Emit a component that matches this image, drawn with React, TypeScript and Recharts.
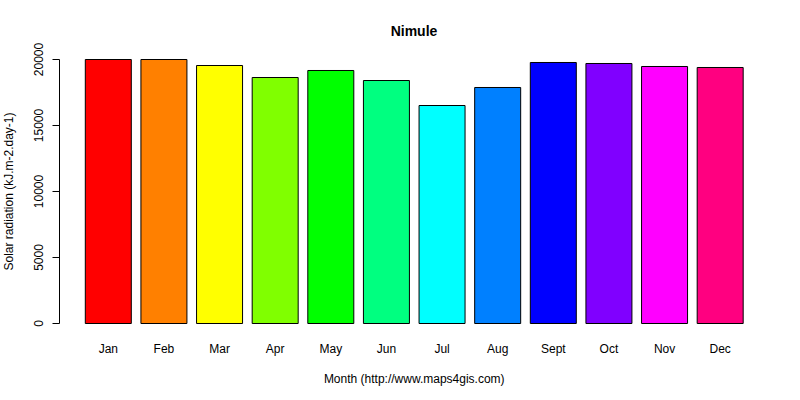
import { BarChart, Bar, Cell, XAxis, YAxis } from 'recharts';

// monthly solar radiation, kJ.m-2.day-1
const months = ['Jan', 'Feb', 'Mar', 'Apr', 'May', 'Jun', 'Jul', 'Aug', 'Sept', 'Oct', 'Nov', 'Dec'];
const radiation = [20000, 20000, 19545, 18636, 19167, 18409, 16515, 17879, 19773, 19697, 19470, 19394];
const barColors = [
  '#FF0000', '#FF8000', '#FFFF00', '#80FF00', '#00FF00', '#00FF80',
  '#00FFFF', '#0080FF', '#0000FF', '#8000FF', '#FF00FF', '#FF0080',
];
const yTicks = [0, 5000, 10000, 15000, 20000];

const data = months.map((month, i) => ({ month, value: radiation[i] }));

const font = '"Liberation Sans", Arial, sans-serif';

const XTick = (props: any) => {
  const { x, y, payload } = props;
  return (
    <text x={x} y={y + 29.5} textAnchor="middle" fontSize={12} fill="#000" fontFamily={font}>
      {payload.value}
    </text>
  );
};

const YTick = (props: any) => {
  const { x, y, payload } = props;
  return (
    <text
      transform={`translate(${x - 10},${y}) rotate(-90)`}
      textAnchor="middle"
      fontSize={12}
      fill="#000"
      fontFamily={font}
    >
      {payload.value}
    </text>
  );
};

export default function App() {
  return (
    <div style={styles.wrapper}>
      <div style={styles.title}>Nimule</div>
      <BarChart
        width={800}
        height={400}
        data={data}
        margin={{ top: 59.5, right: 52, left: 0, bottom: 46.5 }}
        barCategoryGap={4.8}
      >
        <XAxis
          dataKey="month"
          axisLine={false}
          tickLine={false}
          tickSize={0}
          tickMargin={0}
          height={30}
          interval={0}
          padding={{ left: 21, right: 0 }}
          tick={<XTick />}
          label={{
            content: (p: any) => {
              const vb = p.viewBox;
              return (
                <text
                  x={vb.x + 21 + (vb.width - 21) / 2}
                  y={vb.y + 59}
                  textAnchor="middle"
                  fontSize={12}
                  fill="#000"
                  fontFamily={font}
                >
                  Month (http://www.maps4gis.com)
                </text>
              );
            },
          }}
        />
        <YAxis
          domain={[0, 20000]}
          ticks={yTicks}
          width={59.5}
          tickSize={7}
          tickMargin={0}
          stroke="#000"
          axisLine={{ stroke: '#000' }}
          tickLine={{ stroke: '#000' }}
          tick={<YTick />}
          label={{
            content: (p: any) => {
              const vb = p.viewBox;
              const cy = vb.y + vb.height / 2;
              return (
                <text
                  transform={`translate(${vb.x + 13},${cy}) rotate(-90)`}
                  textAnchor="middle"
                  fontSize={12}
                  fill="#000"
                  fontFamily={font}
                >
                  Solar radiation (kJ.m-2.day-1)
                </text>
              );
            },
          }}
        />
        <Bar dataKey="value" stroke="#000" strokeWidth={1} isAnimationActive={false}>
          {data.map((d, i) => (
            <Cell key={d.month} fill={barColors[i]} />
          ))}
        </Bar>
      </BarChart>
    </div>
  );
}

const styles: { [key: string]: React.CSSProperties } = {
  wrapper: {
    position: 'absolute',
    left: 0,
    top: 0,
    width: 800,
    height: 400,
    background: '#fff',
  },
  title: {
    position: 'absolute',
    left: 314,
    top: 24,
    width: 200,
    textAlign: 'center',
    fontFamily: font,
    fontWeight: 'bold',
    fontSize: 14,
    lineHeight: '14px',
    color: '#000',
  },
};
